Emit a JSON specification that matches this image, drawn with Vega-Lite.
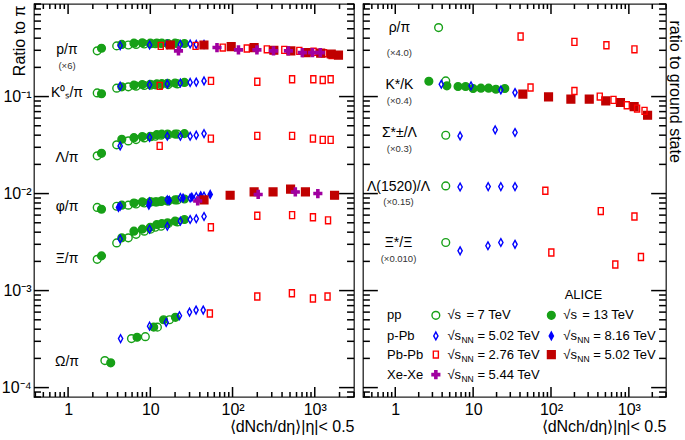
{
  "$schema": "https://vega.github.io/schema/vega-lite/v6.json",
  "padding": {"left": 0, "top": 2, "right": 0, "bottom": 0},
  "background": "white",
  "config": {
    "view": {"stroke": "#222", "strokeWidth": 1.3},
    "font": "Liberation Sans",
    "rule": {"color": "#000", "strokeWidth": 1.5, "opacity": 1},
    "axis": {"domain": false, "grid": false, "ticks": false, "labelFont": "Liberation Sans", "labelFontSize": 16, "labelColor": "#000", "titleFont": "Liberation Sans", "titleFontWeight": "normal", "titleColor": "#000", "labelOverlap": false, "labelBound": false, "labelFlush": false}
  },
  "datasets": {
    "xt": [
      {"v":0.4,"m":0},{"v":0.5,"m":0},{"v":0.6,"m":0},{"v":0.7,"m":0},{"v":0.8,"m":0},{"v":0.9,"m":0},{"v":1,"m":1},
      {"v":2,"m":0},{"v":3,"m":0},{"v":4,"m":0},{"v":5,"m":0},{"v":6,"m":0},{"v":7,"m":0},{"v":8,"m":0},{"v":9,"m":0},{"v":10,"m":1},
      {"v":20,"m":0},{"v":30,"m":0},{"v":40,"m":0},{"v":50,"m":0},{"v":60,"m":0},{"v":70,"m":0},{"v":80,"m":0},{"v":90,"m":0},{"v":100,"m":1},
      {"v":200,"m":0},{"v":300,"m":0},{"v":400,"m":0},{"v":500,"m":0},{"v":600,"m":0},{"v":700,"m":0},{"v":800,"m":0},{"v":900,"m":0},{"v":1000,"m":1},
      {"v":2000,"m":0},{"v":3000,"m":0}
    ],
    "yt": [
      {"v":0.00008,"m":0},{"v":0.00009,"m":0},{"v":0.0001,"m":1},
      {"v":0.0002,"m":0},{"v":0.0003,"m":0},{"v":0.0004,"m":0},{"v":0.0005,"m":0},{"v":0.0006,"m":0},{"v":0.0007,"m":0},{"v":0.0008,"m":0},{"v":0.0009,"m":0},{"v":0.001,"m":1},
      {"v":0.002,"m":0},{"v":0.003,"m":0},{"v":0.004,"m":0},{"v":0.005,"m":0},{"v":0.006,"m":0},{"v":0.007,"m":0},{"v":0.008,"m":0},{"v":0.009,"m":0},{"v":0.01,"m":1},
      {"v":0.02,"m":0},{"v":0.03,"m":0},{"v":0.04,"m":0},{"v":0.05,"m":0},{"v":0.06,"m":0},{"v":0.07,"m":0},{"v":0.08,"m":0},{"v":0.09,"m":0},{"v":0.1,"m":1},
      {"v":0.2,"m":0},{"v":0.3,"m":0},{"v":0.4,"m":0},{"v":0.5,"m":0},{"v":0.6,"m":0},{"v":0.7,"m":0},{"v":0.8,"m":0},{"v":0.9,"m":0}
    ],
    "pts": [
      {"p":"L","s":"pp7","x":2.26,"y":0.296},{"p":"L","s":"pp7","x":3.9,"y":0.333},{"p":"L","s":"pp7","x":5.4,"y":0.34},{"p":"L","s":"pp7","x":6.72,"y":0.345},{"p":"L","s":"pp7","x":8.45,"y":0.348},{"p":"L","s":"pp7","x":10.1,"y":0.35},{"p":"L","s":"pp7","x":11.5,"y":0.35},{"p":"L","s":"pp7","x":13.5,"y":0.352},{"p":"L","s":"pp7","x":16.5,"y":0.35},{"p":"L","s":"pp7","x":21.3,"y":0.352},
      {"p":"L","s":"pp13","x":2.55,"y":0.315},{"p":"L","s":"pp13","x":4.5,"y":0.345},{"p":"L","s":"pp13","x":6.32,"y":0.355},{"p":"L","s":"pp13","x":7.99,"y":0.358},{"p":"L","s":"pp13","x":10,"y":0.355},{"p":"L","s":"pp13","x":12,"y":0.357},{"p":"L","s":"pp13","x":13.8,"y":0.355},{"p":"L","s":"pp13","x":16.2,"y":0.352},{"p":"L","s":"pp13","x":20,"y":0.355},{"p":"L","s":"pp13","x":26,"y":0.352},
      {"p":"L","s":"pPb5","x":4.3,"y":0.335},{"p":"L","s":"pPb5","x":9.8,"y":0.34},{"p":"L","s":"pPb5","x":16.1,"y":0.345},{"p":"L","s":"pPb5","x":23.2,"y":0.345},{"p":"L","s":"pPb5","x":30.5,"y":0.348},{"p":"L","s":"pPb5","x":36.2,"y":0.345},{"p":"L","s":"pPb5","x":45,"y":0.345},
      {"p":"L","s":"PbPb276","x":13.4,"y":0.333},{"p":"L","s":"PbPb276","x":35.5,"y":0.333},{"p":"L","s":"PbPb276","x":76,"y":0.32},{"p":"L","s":"PbPb276","x":149,"y":0.313},{"p":"L","s":"PbPb276","x":261,"y":0.307},{"p":"L","s":"PbPb276","x":426,"y":0.303},{"p":"L","s":"PbPb276","x":649,"y":0.296},{"p":"L","s":"PbPb276","x":966,"y":0.29},{"p":"L","s":"PbPb276","x":1294,"y":0.28},{"p":"L","s":"PbPb276","x":1601,"y":0.268},
      {"p":"L","s":"PbPb502","x":17.5,"y":0.34},{"p":"L","s":"PbPb502","x":44.9,"y":0.34},{"p":"L","s":"PbPb502","x":96.3,"y":0.327},{"p":"L","s":"PbPb502","x":183,"y":0.32},{"p":"L","s":"PbPb502","x":318,"y":0.3},{"p":"L","s":"PbPb502","x":512,"y":0.296},{"p":"L","s":"PbPb502","x":786,"y":0.284},{"p":"L","s":"PbPb502","x":1180,"y":0.28},{"p":"L","s":"PbPb502","x":1587,"y":0.275},{"p":"L","s":"PbPb502","x":1943,"y":0.267},
      {"p":"L","s":"XeXe","x":22,"y":0.296},{"p":"L","s":"XeXe","x":64.7,"y":0.32},{"p":"L","s":"XeXe","x":118,"y":0.303},{"p":"L","s":"XeXe","x":198,"y":0.303},{"p":"L","s":"XeXe","x":315,"y":0.296},{"p":"L","s":"XeXe","x":478,"y":0.296},{"p":"L","s":"XeXe","x":706,"y":0.284},{"p":"L","s":"XeXe","x":939,"y":0.284},{"p":"L","s":"XeXe","x":1167,"y":0.284},

      {"p":"L","s":"pp7","x":2.26,"y":0.109},{"p":"L","s":"pp7","x":3.9,"y":0.122},{"p":"L","s":"pp7","x":5.4,"y":0.126},{"p":"L","s":"pp7","x":6.72,"y":0.128},{"p":"L","s":"pp7","x":8.45,"y":0.13},{"p":"L","s":"pp7","x":10.1,"y":0.131},{"p":"L","s":"pp7","x":11.5,"y":0.132},{"p":"L","s":"pp7","x":13.5,"y":0.132},{"p":"L","s":"pp7","x":16.5,"y":0.133},{"p":"L","s":"pp7","x":21.3,"y":0.135},
      {"p":"L","s":"pp13","x":2.55,"y":0.107},{"p":"L","s":"pp13","x":4.5,"y":0.126},{"p":"L","s":"pp13","x":6.32,"y":0.131},{"p":"L","s":"pp13","x":7.99,"y":0.133},{"p":"L","s":"pp13","x":10,"y":0.134},{"p":"L","s":"pp13","x":12,"y":0.135},{"p":"L","s":"pp13","x":13.8,"y":0.136},{"p":"L","s":"pp13","x":16.2,"y":0.137},{"p":"L","s":"pp13","x":20,"y":0.138},{"p":"L","s":"pp13","x":26,"y":0.14},
      {"p":"L","s":"pPb5","x":4.3,"y":0.128},{"p":"L","s":"pPb5","x":9.8,"y":0.132},{"p":"L","s":"pPb5","x":16.1,"y":0.135},{"p":"L","s":"pPb5","x":23.2,"y":0.138},{"p":"L","s":"pPb5","x":30.5,"y":0.14},{"p":"L","s":"pPb5","x":36.2,"y":0.141},{"p":"L","s":"pPb5","x":45,"y":0.145},
      {"p":"L","s":"PbPb276","x":13,"y":0.129},{"p":"L","s":"PbPb276","x":54.7,"y":0.145},{"p":"L","s":"PbPb276","x":200,"y":0.142},{"p":"L","s":"PbPb276","x":530,"y":0.151},{"p":"L","s":"PbPb276","x":960,"y":0.151},{"p":"L","s":"PbPb276","x":1250,"y":0.148},{"p":"L","s":"PbPb276","x":1560,"y":0.151},

      {"p":"L","s":"pp7","x":2.26,"y":0.0245},{"p":"L","s":"pp7","x":3.9,"y":0.0318},{"p":"L","s":"pp7","x":5.4,"y":0.0349},{"p":"L","s":"pp7","x":6.72,"y":0.036},{"p":"L","s":"pp7","x":8.45,"y":0.0375},{"p":"L","s":"pp7","x":10.1,"y":0.0385},{"p":"L","s":"pp7","x":11.5,"y":0.039},{"p":"L","s":"pp7","x":13.5,"y":0.04},{"p":"L","s":"pp7","x":16.5,"y":0.0405},{"p":"L","s":"pp7","x":21.3,"y":0.041},
      {"p":"L","s":"pp13","x":2.55,"y":0.026},{"p":"L","s":"pp13","x":4.5,"y":0.0363},{"p":"L","s":"pp13","x":6.32,"y":0.0377},{"p":"L","s":"pp13","x":7.99,"y":0.0387},{"p":"L","s":"pp13","x":10,"y":0.039},{"p":"L","s":"pp13","x":12,"y":0.0405},{"p":"L","s":"pp13","x":13.8,"y":0.041},{"p":"L","s":"pp13","x":16.2,"y":0.041},{"p":"L","s":"pp13","x":20,"y":0.041},{"p":"L","s":"pp13","x":26,"y":0.0415},
      {"p":"L","s":"pPb5","x":4.3,"y":0.031},{"p":"L","s":"pPb5","x":9.8,"y":0.038},{"p":"L","s":"pPb5","x":16.1,"y":0.039},{"p":"L","s":"pPb5","x":23.2,"y":0.039},{"p":"L","s":"pPb5","x":30.5,"y":0.039},{"p":"L","s":"pPb5","x":36.2,"y":0.04},{"p":"L","s":"pPb5","x":45,"y":0.0415},
      {"p":"L","s":"PbPb276","x":13,"y":0.031},{"p":"L","s":"PbPb276","x":54.5,"y":0.0369},{"p":"L","s":"PbPb276","x":200,"y":0.0394},{"p":"L","s":"PbPb276","x":530,"y":0.0394},{"p":"L","s":"PbPb276","x":950,"y":0.0369},{"p":"L","s":"PbPb276","x":1250,"y":0.0358},{"p":"L","s":"PbPb276","x":1560,"y":0.0358},

      {"p":"L","s":"pp7","x":2.26,"y":0.0072},{"p":"L","s":"pp7","x":3.9,"y":0.0074},{"p":"L","s":"pp7","x":5.4,"y":0.0076},{"p":"L","s":"pp7","x":6.72,"y":0.0078},{"p":"L","s":"pp7","x":8.45,"y":0.008},{"p":"L","s":"pp7","x":10.1,"y":0.0082},{"p":"L","s":"pp7","x":11.5,"y":0.0082},{"p":"L","s":"pp7","x":13.5,"y":0.0083},{"p":"L","s":"pp7","x":16.5,"y":0.0084},{"p":"L","s":"pp7","x":21.3,"y":0.0086},
      {"p":"L","s":"pp13","x":2.55,"y":0.0069},{"p":"L","s":"pp13","x":4.5,"y":0.0076},{"p":"L","s":"pp13","x":6.32,"y":0.008},{"p":"L","s":"pp13","x":7.99,"y":0.0082},{"p":"L","s":"pp13","x":10,"y":0.0082},{"p":"L","s":"pp13","x":12,"y":0.0082},{"p":"L","s":"pp13","x":13.8,"y":0.0084},{"p":"L","s":"pp13","x":16.2,"y":0.0084},{"p":"L","s":"pp13","x":20,"y":0.0086},{"p":"L","s":"pp13","x":26,"y":0.0088},
      {"p":"L","s":"pPb5","x":4.3,"y":0.0074},{"p":"L","s":"pPb5","x":9.8,"y":0.0082},{"p":"L","s":"pPb5","x":16.1,"y":0.0086},{"p":"L","s":"pPb5","x":23.2,"y":0.0091},{"p":"L","s":"pPb5","x":30.5,"y":0.009},{"p":"L","s":"pPb5","x":36.2,"y":0.0093},{"p":"L","s":"pPb5","x":45,"y":0.0094},
      {"p":"L","s":"pPb8","x":4.1,"y":0.0072},{"p":"L","s":"pPb8","x":9.6,"y":0.0076},{"p":"L","s":"pPb8","x":17,"y":0.0085},{"p":"L","s":"pPb8","x":25,"y":0.009},{"p":"L","s":"pPb8","x":32,"y":0.0092},{"p":"L","s":"pPb8","x":41,"y":0.0095},{"p":"L","s":"pPb8","x":53.5,"y":0.0098},
      {"p":"L","s":"PbPb502","x":45,"y":0.0086},{"p":"L","s":"PbPb502","x":93.5,"y":0.0096},{"p":"L","s":"PbPb502","x":183,"y":0.0104},{"p":"L","s":"PbPb502","x":311,"y":0.0104},{"p":"L","s":"PbPb502","x":508,"y":0.0111},{"p":"L","s":"PbPb502","x":770,"y":0.0104},{"p":"L","s":"PbPb502","x":1740,"y":0.0096},
      {"p":"L","s":"XeXe","x":37.7,"y":0.0084},{"p":"L","s":"XeXe","x":205,"y":0.0098},{"p":"L","s":"XeXe","x":580,"y":0.0104},{"p":"L","s":"XeXe","x":1090,"y":0.01},

      {"p":"L","s":"pp7","x":2.26,"y":0.0021},{"p":"L","s":"pp7","x":3.9,"y":0.0031},{"p":"L","s":"pp7","x":5.4,"y":0.0035},{"p":"L","s":"pp7","x":6.72,"y":0.0038},{"p":"L","s":"pp7","x":8.45,"y":0.0041},{"p":"L","s":"pp7","x":10.1,"y":0.0043},{"p":"L","s":"pp7","x":11.5,"y":0.0045},{"p":"L","s":"pp7","x":13.5,"y":0.0046},{"p":"L","s":"pp7","x":16.5,"y":0.0049},{"p":"L","s":"pp7","x":21.3,"y":0.0051},
      {"p":"L","s":"pp13","x":2.55,"y":0.00228},{"p":"L","s":"pp13","x":4.5,"y":0.0035},{"p":"L","s":"pp13","x":6.32,"y":0.0041},{"p":"L","s":"pp13","x":7.99,"y":0.0043},{"p":"L","s":"pp13","x":10,"y":0.0045},{"p":"L","s":"pp13","x":12,"y":0.0048},{"p":"L","s":"pp13","x":13.8,"y":0.0049},{"p":"L","s":"pp13","x":16.2,"y":0.005},{"p":"L","s":"pp13","x":20,"y":0.0052},{"p":"L","s":"pp13","x":26,"y":0.0054},
      {"p":"L","s":"pPb5","x":4.3,"y":0.0034},{"p":"L","s":"pPb5","x":9.8,"y":0.0043},{"p":"L","s":"pPb5","x":16.1,"y":0.0046},{"p":"L","s":"pPb5","x":23.2,"y":0.0052},{"p":"L","s":"pPb5","x":30.5,"y":0.0054},{"p":"L","s":"pPb5","x":36.2,"y":0.0055},{"p":"L","s":"pPb5","x":45,"y":0.0058},
      {"p":"L","s":"PbPb276","x":54.5,"y":0.0045},{"p":"L","s":"PbPb276","x":200,"y":0.0059},{"p":"L","s":"PbPb276","x":530,"y":0.006},{"p":"L","s":"PbPb276","x":950,"y":0.0057},{"p":"L","s":"PbPb276","x":1450,"y":0.0053},

      {"p":"L","s":"pp7","x":2.8,"y":0.00019},{"p":"L","s":"pp7","x":5.9,"y":0.00032},{"p":"L","s":"pp7","x":8.7,"y":0.000335},{"p":"L","s":"pp7","x":12.2,"y":0.00042},{"p":"L","s":"pp7","x":17.1,"y":0.0005},
      {"p":"L","s":"pp13","x":3.3,"y":0.00018},{"p":"L","s":"pp13","x":6.9,"y":0.00033},{"p":"L","s":"pp13","x":11,"y":0.00042},{"p":"L","s":"pp13","x":14.5,"y":0.0005},{"p":"L","s":"pp13","x":20.2,"y":0.00053},
      {"p":"L","s":"pPb5","x":4.35,"y":0.00032},{"p":"L","s":"pPb5","x":9.8,"y":0.00043},{"p":"L","s":"pPb5","x":15.6,"y":0.00047},{"p":"L","s":"pPb5","x":22.6,"y":0.00055},{"p":"L","s":"pPb5","x":30,"y":0.0006},{"p":"L","s":"pPb5","x":36,"y":0.00063},{"p":"L","s":"pPb5","x":44,"y":0.00063},
      {"p":"L","s":"PbPb276","x":53,"y":0.00058},{"p":"L","s":"PbPb276","x":200,"y":0.00087},{"p":"L","s":"PbPb276","x":527,"y":0.00094},{"p":"L","s":"PbPb276","x":950,"y":0.00083},{"p":"L","s":"PbPb276","x":1430,"y":0.00087},

      {"p":"R","s":"pp7","x":3.6,"y":0.514},
      {"p":"R","s":"PbPb276","x":40.7,"y":0.416},{"p":"R","s":"PbPb276","x":200,"y":0.366},{"p":"R","s":"PbPb276","x":515,"y":0.338},{"p":"R","s":"PbPb276","x":1180,"y":0.307},
      {"p":"R","s":"pp13","x":2.7,"y":0.144},{"p":"R","s":"pp13","x":4.6,"y":0.129},{"p":"R","s":"pp13","x":6.4,"y":0.127},{"p":"R","s":"pp13","x":8.0,"y":0.127},{"p":"R","s":"pp13","x":10,"y":0.121},{"p":"R","s":"pp13","x":12.6,"y":0.122},{"p":"R","s":"pp13","x":15.8,"y":0.122},{"p":"R","s":"pp13","x":19.6,"y":0.119},{"p":"R","s":"pp13","x":25.5,"y":0.121},
      {"p":"R","s":"pp7","x":4.45,"y":0.145},
      {"p":"R","s":"pPb5","x":3.9,"y":0.134},{"p":"R","s":"pPb5","x":9.4,"y":0.129},{"p":"R","s":"pPb5","x":22.7,"y":0.117},{"p":"R","s":"pPb5","x":34.5,"y":0.11},
      {"p":"R","s":"PbPb502","x":43.5,"y":0.106},{"p":"R","s":"PbPb502","x":93,"y":0.0993},{"p":"R","s":"PbPb502","x":180,"y":0.094},{"p":"R","s":"PbPb502","x":310,"y":0.094},{"p":"R","s":"PbPb502","x":505,"y":0.0903},{"p":"R","s":"PbPb502","x":780,"y":0.0868},{"p":"R","s":"PbPb502","x":1170,"y":0.0789},{"p":"R","s":"PbPb502","x":1740,"y":0.0642},
      {"p":"R","s":"PbPb276","x":54.6,"y":0.124},{"p":"R","s":"PbPb276","x":200,"y":0.114},{"p":"R","s":"PbPb276","x":423,"y":0.1},{"p":"R","s":"PbPb276","x":635,"y":0.0924},{"p":"R","s":"PbPb276","x":940,"y":0.0814},{"p":"R","s":"PbPb276","x":1275,"y":0.0752},{"p":"R","s":"PbPb276","x":1590,"y":0.0712},
      {"p":"R","s":"pp7","x":4.45,"y":0.0399},
      {"p":"R","s":"pPb5","x":6.8,"y":0.0393},{"p":"R","s":"pPb5","x":19.2,"y":0.0454},{"p":"R","s":"pPb5","x":34.5,"y":0.0426},
      {"p":"R","s":"pp7","x":4.45,"y":0.012},
      {"p":"R","s":"pPb5","x":6.8,"y":0.0117},{"p":"R","s":"pPb5","x":15.6,"y":0.0118},{"p":"R","s":"pPb5","x":22.7,"y":0.0118},{"p":"R","s":"pPb5","x":34.5,"y":0.0118},
      {"p":"R","s":"PbPb276","x":84.6,"y":0.0107},{"p":"R","s":"PbPb276","x":436,"y":0.0066},{"p":"R","s":"PbPb276","x":1180,"y":0.0058},
      {"p":"R","s":"pp7","x":4.45,"y":0.00313},
      {"p":"R","s":"pPb5","x":6.8,"y":0.00257},{"p":"R","s":"pPb5","x":15.5,"y":0.0029},{"p":"R","s":"pPb5","x":22.7,"y":0.00313},{"p":"R","s":"pPb5","x":34.5,"y":0.003},
      {"p":"R","s":"PbPb276","x":101,"y":0.00247},{"p":"R","s":"PbPb276","x":670,"y":0.00186},{"p":"R","s":"PbPb276","x":1430,"y":0.00222}
    ],
    "lab": [
      {"p":"L","k":"name","t":"p/π","x":0.97,"y":0.3},
      {"p":"L","k":"factor","t":"(×6)","x":0.97,"y":0.207},
      {"p":"L","k":"name","t":"K⁰ₛ/π","x":0.97,"y":0.11},
      {"p":"L","k":"name","t":"Λ/π","x":0.97,"y":0.0235},
      {"p":"L","k":"name","t":"φ/π","x":0.97,"y":0.0072},
      {"p":"L","k":"name","t":"Ξ/π","x":0.97,"y":0.0021},
      {"p":"L","k":"name","t":"Ω/π","x":0.97,"y":0.000184},
      {"p":"R","k":"name","t":"ρ/π","x":1.13,"y":0.51},
      {"p":"R","k":"factor","t":"(×4.0)","x":1.13,"y":0.282},
      {"p":"R","k":"name","t":"K*/K","x":1.13,"y":0.131},
      {"p":"R","k":"factor","t":"(×0.4)","x":1.13,"y":0.0895},
      {"p":"R","k":"name","t":"Σ*±/Λ","x":1.13,"y":0.0426},
      {"p":"R","k":"factor","t":"(×0.3)","x":1.13,"y":0.0291},
      {"p":"R","k":"name","t":"Λ(1520)/Λ","x":1.1,"y":0.0117},
      {"p":"R","k":"factor","t":"(×0.15)","x":1.1,"y":0.0081},
      {"p":"R","k":"name","t":"Ξ*/Ξ","x":1.1,"y":0.00308},
      {"p":"R","k":"factor","t":"(×0.010)","x":1.1,"y":0.0021}
    ],
    "legpts": [
      {"s":"pp7","x":3.32,"y":0.000556},{"s":"pp13","x":101,"y":0.000556},
      {"s":"pPb5","x":3.32,"y":0.000341},{"s":"pPb8","x":101,"y":0.000341},
      {"s":"PbPb276","x":3.32,"y":0.000219},{"s":"PbPb502","x":101,"y":0.000219},
      {"s":"XeXe","x":3.32,"y":0.000136}
    ],
    "legtxt": [
      {"pre":"ALICE","sub":"","post":"","x":150,"y":0.000895},
      {"pre":"pp","sub":"","post":"","x":0.785,"y":0.000556},{"pre":"p-Pb","sub":"","post":"","x":0.785,"y":0.000341},{"pre":"Pb-Pb","sub":"","post":"","x":0.785,"y":0.000219},{"pre":"Xe-Xe","sub":"","post":"","x":0.785,"y":0.000136},
      {"pre":"√s","sub":"","post":"= 7 TeV","x":4.67,"y":0.000556},{"pre":"√s","sub":"","post":"= 13 TeV","x":144,"y":0.000556},
      {"pre":"√s","sub":"NN","post":"= 5.02 TeV","x":4.67,"y":0.000341},{"pre":"√s","sub":"NN","post":"= 8.16 TeV","x":144,"y":0.000341},
      {"pre":"√s","sub":"NN","post":"= 2.76 TeV","x":4.67,"y":0.000219},{"pre":"√s","sub":"NN","post":"= 5.02 TeV","x":144,"y":0.000219},
      {"pre":"√s","sub":"NN","post":"= 5.44 TeV","x":4.67,"y":0.000136}
    ]
  },
  "spacing": 5,
  "hconcat": [
    {
      "width": 320,
      "height": 393,
      "resolve": {"axis": {"x": "independent", "y": "independent"}},
      "layer": [
        {"data": {"name": "xt"}, "transform": [{"filter": "datum.m == 1"}], "mark": {"type": "rule"},
          "encoding": {"x": {"field": "v", "type": "quantitative", "scale": {"type": "log", "domain": [0.385, 3000], "nice": false}, "axis": null},
            "y": {"datum": 0.9, "type": "quantitative", "scale": {"type": "log", "domain": [0.00008, 0.9], "nice": false}, "axis": null}, "y2": {"datum": 0.71}}},
        {"data": {"name": "xt"}, "transform": [{"filter": "datum.m == 0"}], "mark": {"type": "rule"},
          "encoding": {"x": {"field": "v", "type": "quantitative", "scale": {"type": "log", "domain": [0.385, 3000], "nice": false}, "axis": null},
            "y": {"datum": 0.9, "type": "quantitative", "scale": {"type": "log", "domain": [0.00008, 0.9], "nice": false}, "axis": null}, "y2": {"datum": 0.799}}},
        {"data": {"name": "xt"}, "transform": [{"filter": "datum.m == 1"}], "mark": {"type": "rule"},
          "encoding": {"x": {"field": "v", "type": "quantitative", "scale": {"type": "log", "domain": [0.385, 3000], "nice": false}, "axis": null},
            "y": {"datum": 0.00008, "type": "quantitative", "scale": {"type": "log", "domain": [0.00008, 0.9], "nice": false}, "axis": null}, "y2": {"datum": 0.0001014}}},
        {"data": {"name": "xt"}, "transform": [{"filter": "datum.m == 0"}], "mark": {"type": "rule"},
          "encoding": {"x": {"field": "v", "type": "quantitative", "scale": {"type": "log", "domain": [0.385, 3000], "nice": false}, "axis": null},
            "y": {"datum": 0.00008, "type": "quantitative", "scale": {"type": "log", "domain": [0.00008, 0.9], "nice": false}, "axis": null}, "y2": {"datum": 0.0000901}}},
        {"data": {"name": "yt"}, "transform": [{"filter": "datum.m == 1"}], "mark": {"type": "rule"},
          "encoding": {"y": {"field": "v", "type": "quantitative", "scale": {"type": "log", "domain": [0.00008, 0.9], "nice": false}, "axis": null},
            "x": {"datum": 0.385, "type": "quantitative", "scale": {"type": "log", "domain": [0.385, 3000], "nice": false}, "axis": null}, "x2": {"datum": 0.5844}}},
        {"data": {"name": "yt"}, "transform": [{"filter": "datum.m == 0"}], "mark": {"type": "rule"},
          "encoding": {"y": {"field": "v", "type": "quantitative", "scale": {"type": "log", "domain": [0.00008, 0.9], "nice": false}, "axis": null},
            "x": {"datum": 0.385, "type": "quantitative", "scale": {"type": "log", "domain": [0.385, 3000], "nice": false}, "axis": null}, "x2": {"datum": 0.468}}},
        {"data": {"name": "yt"}, "transform": [{"filter": "datum.m == 1"}], "mark": {"type": "rule"},
          "encoding": {"y": {"field": "v", "type": "quantitative", "scale": {"type": "log", "domain": [0.00008, 0.9], "nice": false}, "axis": null},
            "x": {"datum": 3000, "type": "quantitative", "scale": {"type": "log", "domain": [0.385, 3000], "nice": false}, "axis": null}, "x2": {"datum": 1976}}},
        {"data": {"name": "yt"}, "transform": [{"filter": "datum.m == 0"}], "mark": {"type": "rule"},
          "encoding": {"y": {"field": "v", "type": "quantitative", "scale": {"type": "log", "domain": [0.00008, 0.9], "nice": false}, "axis": null},
            "x": {"datum": 3000, "type": "quantitative", "scale": {"type": "log", "domain": [0.385, 3000], "nice": false}, "axis": null}, "x2": {"datum": 2469}}},
        {
          "data": {"name": "pts"},
          "transform": [{"filter": "datum.p === 'L'"}],
          "mark": {"type": "point", "strokeWidth": 1.4, "opacity": 1},
          "encoding": {
            "x": {"field": "x", "type": "quantitative", "scale": {"type": "log", "domain": [0.385, 3000], "nice": false},
              "axis": {"orient": "bottom", "values": [1,10,100,1000], "labelPadding": 4,
                "labelExpr": "datum.value==1?'1':datum.value==10?'10':datum.value==100?'10²':'10³'",
                "title": "⟨dNch/dη⟩|η|< 0.5", "titleFontSize": 16, "titleAnchor": "end", "titlePadding": 1}},
            "y": {"field": "y", "type": "quantitative", "scale": {"type": "log", "domain": [0.00008, 0.9], "nice": false},
              "axis": {"orient": "left", "values": [0.0001,0.001,0.01,0.1], "labelPadding": 3,
                "labelExpr": "datum.value==0.1?'10⁻¹':datum.value==0.01?'10⁻²':datum.value==0.001?'10⁻³':'10⁻⁴'",
                "title": "Ratio to π", "titleFontSize": 16, "titleAngle": 270, "titleAlign": "right", "titleBaseline": "middle", "titleX": -15, "titleY": 1}},
            "shape": {"field": "s", "type": "nominal", "legend": null, "scale": {"domain": ["pp7","pp13","pPb5","pPb8","PbPb276","PbPb502","XeXe"], "range": ["circle","circle","M0,-1L0.55,0L0,1L-0.55,0Z","M0,-1L0.55,0L0,1L-0.55,0Z","M-0.65,-0.9H0.65V0.9H-0.65Z","square","M-0.28,-1H0.28V-0.28H1V0.28H0.28V1H-0.28V0.28H-1V-0.28H-0.28Z"]}},
            "stroke": {"field": "s", "type": "nominal", "legend": null, "scale": {"domain": ["pp7","pp13","pPb5","pPb8","PbPb276","PbPb502","XeXe"], "range": ["#17a017","#17a017","#0000ff","#0000ff","#ff0000","#c00000","#a000a0"]}},
            "fill": {"field": "s", "type": "nominal", "legend": null, "scale": {"domain": ["pp7","pp13","pPb5","pPb8","PbPb276","PbPb502","XeXe"], "range": ["transparent","#17a017","transparent","#0000ff","transparent","#c00000","#a000a0"]}},
            "size": {"field": "s", "type": "nominal", "legend": null, "scale": {"domain": ["pp7","pp13","pPb5","pPb8","PbPb276","PbPb502","XeXe"], "range": [60,60,110,110,60,25,100]}}
          }
        },
        {
          "data": {"name": "lab"},
          "transform": [{"filter": "datum.p === 'L' && datum.k === 'name'"}],
          "mark": {"type": "text", "fontSize": 14, "color": "#000", "align": "center", "baseline": "middle"},
          "encoding": {
            "x": {"field": "x", "type": "quantitative", "scale": {"type": "log", "domain": [0.385, 3000], "nice": false}, "axis": null},
            "y": {"field": "y", "type": "quantitative", "scale": {"type": "log", "domain": [0.00008, 0.9], "nice": false}, "axis": null},
            "text": {"field": "t"}
          }
        },
        {
          "data": {"name": "lab"},
          "transform": [{"filter": "datum.p === 'L' && datum.k === 'factor'"}],
          "mark": {"type": "text", "fontSize": 9.5, "color": "#333", "align": "center", "baseline": "middle"},
          "encoding": {
            "x": {"field": "x", "type": "quantitative", "scale": {"type": "log", "domain": [0.385, 3000], "nice": false}, "axis": null},
            "y": {"field": "y", "type": "quantitative", "scale": {"type": "log", "domain": [0.00008, 0.9], "nice": false}, "axis": null},
            "text": {"field": "t"}
          }
        }
      ]
    },
    {
      "width": 303,
      "height": 393,
      "resolve": {"axis": {"x": "independent", "y": "independent"}},
      "layer": [
        {"data": {"name": "xt"}, "transform": [{"filter": "datum.m == 1"}], "mark": {"type": "rule"},
          "encoding": {"x": {"field": "v", "type": "quantitative", "scale": {"type": "log", "domain": [0.385, 3000], "nice": false}, "axis": null},
            "y": {"datum": 0.9, "type": "quantitative", "scale": {"type": "log", "domain": [0.00008, 0.9], "nice": false}, "axis": null}, "y2": {"datum": 0.71}}},
        {"data": {"name": "xt"}, "transform": [{"filter": "datum.m == 0"}], "mark": {"type": "rule"},
          "encoding": {"x": {"field": "v", "type": "quantitative", "scale": {"type": "log", "domain": [0.385, 3000], "nice": false}, "axis": null},
            "y": {"datum": 0.9, "type": "quantitative", "scale": {"type": "log", "domain": [0.00008, 0.9], "nice": false}, "axis": null}, "y2": {"datum": 0.799}}},
        {"data": {"name": "xt"}, "transform": [{"filter": "datum.m == 1"}], "mark": {"type": "rule"},
          "encoding": {"x": {"field": "v", "type": "quantitative", "scale": {"type": "log", "domain": [0.385, 3000], "nice": false}, "axis": null},
            "y": {"datum": 0.00008, "type": "quantitative", "scale": {"type": "log", "domain": [0.00008, 0.9], "nice": false}, "axis": null}, "y2": {"datum": 0.0001014}}},
        {"data": {"name": "xt"}, "transform": [{"filter": "datum.m == 0"}], "mark": {"type": "rule"},
          "encoding": {"x": {"field": "v", "type": "quantitative", "scale": {"type": "log", "domain": [0.385, 3000], "nice": false}, "axis": null},
            "y": {"datum": 0.00008, "type": "quantitative", "scale": {"type": "log", "domain": [0.00008, 0.9], "nice": false}, "axis": null}, "y2": {"datum": 0.0000901}}},
        {"data": {"name": "yt"}, "transform": [{"filter": "datum.m == 1"}], "mark": {"type": "rule"},
          "encoding": {"y": {"field": "v", "type": "quantitative", "scale": {"type": "log", "domain": [0.00008, 0.9], "nice": false}, "axis": null},
            "x": {"datum": 0.385, "type": "quantitative", "scale": {"type": "log", "domain": [0.385, 3000], "nice": false}, "axis": null}, "x2": {"datum": 0.597}}},
        {"data": {"name": "yt"}, "transform": [{"filter": "datum.m == 0"}], "mark": {"type": "rule"},
          "encoding": {"y": {"field": "v", "type": "quantitative", "scale": {"type": "log", "domain": [0.00008, 0.9], "nice": false}, "axis": null},
            "x": {"datum": 0.385, "type": "quantitative", "scale": {"type": "log", "domain": [0.385, 3000], "nice": false}, "axis": null}, "x2": {"datum": 0.472}}},
        {"data": {"name": "yt"}, "transform": [{"filter": "datum.m == 1"}], "mark": {"type": "rule"},
          "encoding": {"y": {"field": "v", "type": "quantitative", "scale": {"type": "log", "domain": [0.00008, 0.9], "nice": false}, "axis": null},
            "x": {"datum": 3000, "type": "quantitative", "scale": {"type": "log", "domain": [0.385, 3000], "nice": false}, "axis": null}, "x2": {"datum": 1934}}},
        {"data": {"name": "yt"}, "transform": [{"filter": "datum.m == 0"}], "mark": {"type": "rule"},
          "encoding": {"y": {"field": "v", "type": "quantitative", "scale": {"type": "log", "domain": [0.00008, 0.9], "nice": false}, "axis": null},
            "x": {"datum": 3000, "type": "quantitative", "scale": {"type": "log", "domain": [0.385, 3000], "nice": false}, "axis": null}, "x2": {"datum": 2445}}},
        {
          "data": {"name": "pts"},
          "transform": [{"filter": "datum.p === 'R'"}],
          "mark": {"type": "point", "strokeWidth": 1.4, "opacity": 1},
          "encoding": {
            "x": {"field": "x", "type": "quantitative", "scale": {"type": "log", "domain": [0.385, 3000], "nice": false},
              "axis": {"orient": "bottom", "values": [1,10,100,1000], "labelPadding": 4,
                "labelExpr": "datum.value==1?'1':datum.value==10?'10':datum.value==100?'10²':'10³'",
                "title": "⟨dNch/dη⟩|η|< 0.5", "titleFontSize": 16, "titleAnchor": "end", "titlePadding": 1}},
            "y": {"field": "y", "type": "quantitative", "scale": {"type": "log", "domain": [0.00008, 0.9], "nice": false},
              "axis": {"orient": "right", "values": [0.0001,0.001,0.01,0.1], "labels": false,
                "title": "ratio to ground state", "titleFontSize": 16, "titleAngle": 90, "titleAlign": "left", "titleBaseline": "middle", "titleX": 8, "titleY": 16}},
            "shape": {"field": "s", "type": "nominal", "legend": null, "scale": {"domain": ["pp7","pp13","pPb5","pPb8","PbPb276","PbPb502","XeXe"], "range": ["circle","circle","M0,-1L0.55,0L0,1L-0.55,0Z","M0,-1L0.55,0L0,1L-0.55,0Z","M-0.65,-0.9H0.65V0.9H-0.65Z","square","M-0.28,-1H0.28V-0.28H1V0.28H0.28V1H-0.28V0.28H-1V-0.28H-0.28Z"]}},
            "stroke": {"field": "s", "type": "nominal", "legend": null, "scale": {"domain": ["pp7","pp13","pPb5","pPb8","PbPb276","PbPb502","XeXe"], "range": ["#17a017","#17a017","#0000ff","#0000ff","#ff0000","#c00000","#a000a0"]}},
            "fill": {"field": "s", "type": "nominal", "legend": null, "scale": {"domain": ["pp7","pp13","pPb5","pPb8","PbPb276","PbPb502","XeXe"], "range": ["transparent","#17a017","transparent","#0000ff","transparent","#c00000","#a000a0"]}},
            "size": {"field": "s", "type": "nominal", "legend": null, "scale": {"domain": ["pp7","pp13","pPb5","pPb8","PbPb276","PbPb502","XeXe"], "range": [60,60,110,110,60,25,100]}}
          }
        },
        {
          "data": {"name": "legpts"},
          "mark": {"type": "point", "strokeWidth": 1.4, "opacity": 1},
          "encoding": {
            "x": {"field": "x", "type": "quantitative", "scale": {"type": "log", "domain": [0.385, 3000], "nice": false}, "axis": null},
            "y": {"field": "y", "type": "quantitative", "scale": {"type": "log", "domain": [0.00008, 0.9], "nice": false}, "axis": null},
            "shape": {"field": "s", "type": "nominal", "legend": null},
            "stroke": {"field": "s", "type": "nominal", "legend": null},
            "fill": {"field": "s", "type": "nominal", "legend": null},
            "size": {"field": "s", "type": "nominal", "legend": null}
          }
        },
        {
          "data": {"name": "lab"},
          "transform": [{"filter": "datum.p === 'R' && datum.k === 'name'"}],
          "mark": {"type": "text", "fontSize": 14, "color": "#000", "align": "center", "baseline": "middle"},
          "encoding": {
            "x": {"field": "x", "type": "quantitative", "scale": {"type": "log", "domain": [0.385, 3000], "nice": false}, "axis": null},
            "y": {"field": "y", "type": "quantitative", "scale": {"type": "log", "domain": [0.00008, 0.9], "nice": false}, "axis": null},
            "text": {"field": "t"}
          }
        },
        {
          "data": {"name": "lab"},
          "transform": [{"filter": "datum.p === 'R' && datum.k === 'factor'"}],
          "mark": {"type": "text", "fontSize": 9.5, "color": "#333", "align": "center", "baseline": "middle"},
          "encoding": {
            "x": {"field": "x", "type": "quantitative", "scale": {"type": "log", "domain": [0.385, 3000], "nice": false}, "axis": null},
            "y": {"field": "y", "type": "quantitative", "scale": {"type": "log", "domain": [0.00008, 0.9], "nice": false}, "axis": null},
            "text": {"field": "t"}
          }
        },
        {
          "data": {"name": "legtxt"},
          "mark": {"type": "text", "fontSize": 13, "color": "#000", "align": "left", "baseline": "middle"},
          "encoding": {
            "x": {"field": "x", "type": "quantitative", "scale": {"type": "log", "domain": [0.385, 3000], "nice": false}, "axis": null},
            "y": {"field": "y", "type": "quantitative", "scale": {"type": "log", "domain": [0.00008, 0.9], "nice": false}, "axis": null},
            "text": {"field": "pre"}
          }
        },
        {
          "data": {"name": "legtxt"},
          "transform": [{"filter": "datum.sub !== ''"}],
          "mark": {"type": "text", "fontSize": 8.5, "color": "#000", "align": "left", "baseline": "middle", "dx": 14, "dy": 4},
          "encoding": {
            "x": {"field": "x", "type": "quantitative", "scale": {"type": "log", "domain": [0.385, 3000], "nice": false}, "axis": null},
            "y": {"field": "y", "type": "quantitative", "scale": {"type": "log", "domain": [0.00008, 0.9], "nice": false}, "axis": null},
            "text": {"field": "sub"}
          }
        },
        {
          "data": {"name": "legtxt"},
          "transform": [{"filter": "datum.sub === '' && datum.post !== ''"}],
          "mark": {"type": "text", "fontSize": 13, "color": "#000", "align": "left", "baseline": "middle", "dx": 19},
          "encoding": {
            "x": {"field": "x", "type": "quantitative", "scale": {"type": "log", "domain": [0.385, 3000], "nice": false}, "axis": null},
            "y": {"field": "y", "type": "quantitative", "scale": {"type": "log", "domain": [0.00008, 0.9], "nice": false}, "axis": null},
            "text": {"field": "post"}
          }
        },
        {
          "data": {"name": "legtxt"},
          "transform": [{"filter": "datum.sub !== ''"}],
          "mark": {"type": "text", "fontSize": 13, "color": "#000", "align": "left", "baseline": "middle", "dx": 30},
          "encoding": {
            "x": {"field": "x", "type": "quantitative", "scale": {"type": "log", "domain": [0.385, 3000], "nice": false}, "axis": null},
            "y": {"field": "y", "type": "quantitative", "scale": {"type": "log", "domain": [0.00008, 0.9], "nice": false}, "axis": null},
            "text": {"field": "post"}
          }
        }
      ]
    }
  ]
}
